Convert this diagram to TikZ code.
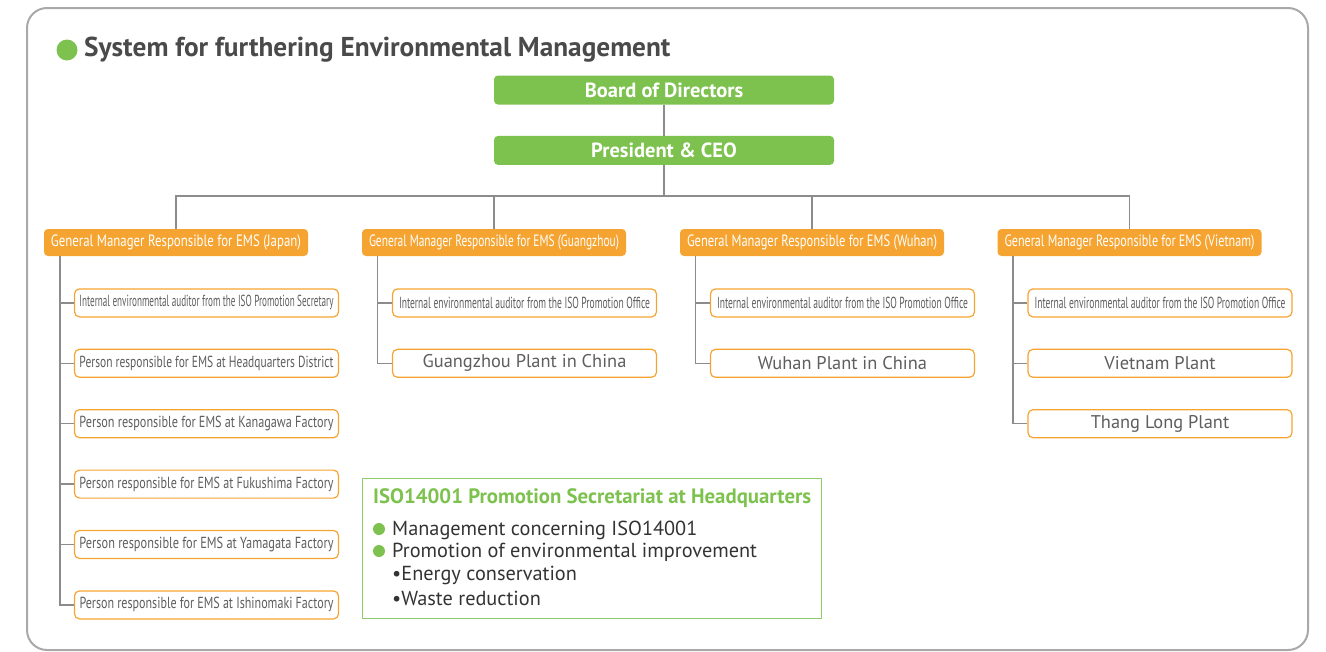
\documentclass[tikz,border=0pt]{standalone}
\usepackage{fontspec}
\setmainfont{PT Sans}
\newfontfamily\gmfont[FakeStretch=0.78]{PT Sans}
\newfontfamily\narrowfont[FakeStretch=0.62]{PT Sans}
\usetikzlibrary{positioning}
\definecolor{emsgreen}{HTML}{7DC24F}
\definecolor{emsorange}{HTML}{F6A431}
\definecolor{linegray}{HTML}{8C8C8C}
\definecolor{framegray}{HTML}{A9A9AC}
\definecolor{textgray}{HTML}{5E5E5E}
\definecolor{titlegray}{HTML}{4A4A4A}
\newcommand\fitline[2][254pt]{\resizebox{#1}{\height}{#2}}

\begin{document}
\begin{tikzpicture}[x=1pt,y=-1pt, every node/.append style={on grid,node distance=60.4pt and 30.5pt},
                    topbox/.style={fill=emsgreen,rounded corners=4pt,minimum width=340pt,minimum height=29pt,
                                   text=white,font=\bfseries\fontsize{20.5}{20.5}\selectfont},
                    gmbox/.style={fill=emsorange,rounded corners=4pt,minimum width=264pt,minimum height=27pt,
                                  text=white,font=\gmfont\fontsize{16.4}{16.4}\selectfont},
                    subbox/.style={draw=emsorange,line width=1.2pt,fill=white,rounded corners=5pt,minimum width=264pt,
                                   minimum height=28pt,text=textgray,font=\narrowfont\fontsize{16}{16}\selectfont},
                    plantbox/.style={subbox,font=\fontsize{18.4}{18.4}\selectfont},
                    secline/.style={anchor=west,inner sep=0pt,text=black!80,font=\fontsize{20.3}{20.3}\selectfont},
                    dot/.style={circle,fill=emsgreen,inner sep=0pt},
                    link/.style={draw=linegray,line width=1.5pt}]

\useasboundingbox (0,0) rectangle (1326,651);
\draw[framegray,line width=2pt,rounded corners=20pt] (27,8) rectangle (1308,650);

\node[dot,minimum size=21pt] (titledot) at (67,50) {};
\node[anchor=west,inner sep=0pt,text=titlegray,font=\bfseries\fontsize{27.3}{27.3}\selectfont] (title) at (84,50)
     {System for furthering Environmental Management};

\node[topbox] (board) at (664,90) {Board of Directors};
\node[topbox,below=of board] (ceo) {President \& CEO};
\coordinate (bus) at (664,196);

\node[gmbox] (gm1) at (176,242.5) {\fitline[250pt]{General Manager Responsible for EMS (Japan)}};
\node[gmbox] (gm2) at (494,242.5) {\fitline[250pt]{General Manager Responsible for EMS (Guangzhou)}};
\node[gmbox] (gm3) at (812,242.5) {\fitline[250pt]{General Manager Responsible for EMS (Wuhan)}};
\node[gmbox] (gm4) at (1129.5,242.5) {\fitline[250pt]{General Manager Responsible for EMS (Vietnam)}};

% Japan
\node[subbox,below right=of gm1] (j1) {\fitline{Internal environmental auditor from the ISO Promotion Secretary}};
\node[subbox,below=of j1] (j2) {\fitline{Person responsible for EMS at Headquarters District}};
\node[subbox,below=of j2] (j3) {\fitline{Person responsible for EMS at Kanagawa Factory}};
\node[subbox,below=of j3] (j4) {\fitline{Person responsible for EMS at Fukushima Factory}};
\node[subbox,below=of j4] (j5) {\fitline{Person responsible for EMS at Yamagata Factory}};
\node[subbox,below=of j5] (j6) {\fitline{Person responsible for EMS at Ishinomaki Factory}};

% China
\node[subbox,below right=of gm2] (g1) {\fitline[251pt]{Internal environmental auditor from the ISO Promotion Office}};
\node[plantbox,below=of g1] (g2) {Guangzhou Plant in China};
\node[subbox,below right=of gm3] (w1) {\fitline[251pt]{Internal environmental auditor from the ISO Promotion Office}};
\node[plantbox,below=of w1] (w2) {Wuhan Plant in China};

% Vietnam
\node[subbox,below right=of gm4] (v1) {\fitline[251pt]{Internal environmental auditor from the ISO Promotion Office}};
\node[plantbox,below=of v1] (v2) {Vietnam Plant};
\node[plantbox,below=of v2] (v3) {Thang Long Plant};

\draw[link] (board) -- (ceo);
\draw[link] (ceo) -- (bus);
\foreach \g in {gm1,gm2,gm3,gm4}
  \draw[link] (bus) -| (\g);
\foreach \c in {j1,j2,j3,j4,j5,j6}
  \draw[link] ([xshift=16pt]gm1.south west) |- (\c);
\foreach \c in {g1,g2}
  \draw[link] ([xshift=15.5pt]gm2.south west) |- (\c);
\foreach \c in {w1,w2}
  \draw[link] ([xshift=15.5pt]gm3.south west) |- (\c);
\foreach \c in {v1,v2,v3}
  \draw[link] ([xshift=15.5pt]gm4.south west) |- (\c);

% secretariat
\node[draw=emsgreen!85,line width=1.3pt,minimum width=459pt,minimum height=140pt,anchor=north west] (sec) at (362,478) {};
\node[secline,text=emsgreen,font=\bfseries\fontsize{20.8}{20.8}\selectfont] (sechead) at (373,498)
     {ISO14001 Promotion Secretariat at Headquarters};
\node[dot,minimum size=12pt] (dot1) at (379,529) {};
\node[secline] (item1) at (392,530) {Management concerning ISO14001};
\node[dot,minimum size=12pt] (dot2) at (379,551) {};
\node[secline] (item2) at (392,552) {Promotion of environmental improvement};
\node[secline] (item3) at (392,575) {\textbullet Energy conservation};
\node[secline] (item4) at (392,598) {\textbullet Waste reduction};

\end{tikzpicture}
\end{document}
